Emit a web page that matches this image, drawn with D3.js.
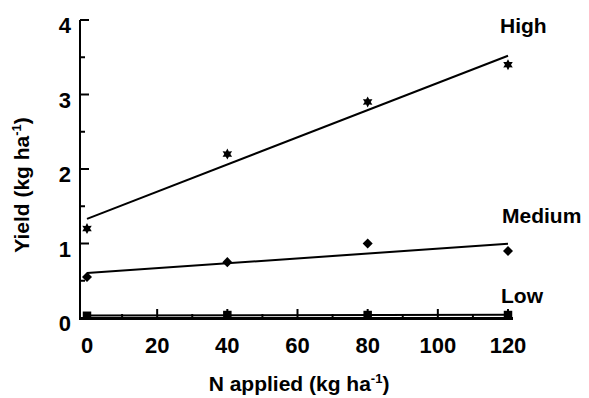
<!DOCTYPE html>
<html>
<head>
<meta charset="utf-8">
<script src="https://cdn.jsdelivr.net/npm/d3@7"></script>
<style>
  body { margin: 0; background: #fff; }
  text { font-family: "Liberation Sans", Arial, sans-serif; font-weight: bold; fill: #000; }
</style>
</head>
<body>
<div id="chart"></div>
<script>
const width = 589;
const height = 398;

// N rates and yields
const nRates = [0, 40, 80, 120];
const highYield = [1.2, 2.2, 2.9, 3.4];
const mediumYield = [0.55, 0.75, 1.0, 0.9];
const lowYield = [0.03, 0.04, 0.04, 0.04];
const seriesNames = ["High", "Medium", "Low"];
const xTicks = [0, 20, 40, 60, 80, 100, 120];
const yTicks = [0, 1, 2, 3, 4];

const svg = d3
  .select("#chart")
  .append("svg")
  .attr("width", width)
  .attr("height", height);

const xScale = d3.scaleLinear().domain([0, 120]).range([87, 508]);
const yScale = d3.scaleLinear().domain([0, 4]).range([318, 20]);

// least squares line for each series
const fit = (ys) => {
  const mx = d3.mean(nRates), my = d3.mean(ys);
  let sxy = 0, sxx = 0;
  nRates.forEach((x, i) => { sxy += (x - mx) * (ys[i] - my); sxx += (x - mx) ** 2; });
  const b = sxy / sxx;
  const a = my - b * mx;
  return [[0, a], [120, a + b * 120]];
};

// six point star marker
const hexagram = (r) => {
  const p = [];
  for (let i = 0; i < 12; i++) {
    const ang = -Math.PI / 2 + i * Math.PI / 6;
    const rr = i % 2 === 0 ? r : r * 0.55;
    p.push([rr * Math.cos(ang), rr * Math.sin(ang)]);
  }
  return "M" + p.map((d) => d.join(",")).join("L") + "Z";
};

const series = [
  { name: "High", values: highYield, marker: hexagram(5.5) },
  { name: "Medium", values: mediumYield, marker: d3.symbol(d3.symbolDiamond2, 64)() },
  { name: "Low", values: lowYield, marker: d3.symbol(d3.symbolSquare, 72)() }
];

// axes
svg.append("line")
  .attr("x1", 80).attr("x2", 80)
  .attr("y1", yScale(4)).attr("y2", yScale(0))
  .attr("stroke", "#000").attr("stroke-width", 2);

svg.append("line")
  .attr("x1", 79).attr("x2", 513)
  .attr("y1", yScale(0) + 0.5).attr("y2", yScale(0) + 0.5)
  .attr("stroke", "#000").attr("stroke-width", 3);

svg.selectAll(".ytick")
  .data(d3.range(0, 4.01, 0.5))
  .enter()
  .append("line")
  .attr("x1", 80)
  .attr("x2", (d) => (d % 1 === 0 ? 89 : 85))
  .attr("y1", (d) => yScale(d))
  .attr("y2", (d) => yScale(d))
  .attr("stroke", "#000")
  .attr("stroke-width", 2);

svg.selectAll(".xtick")
  .data(d3.range(10, 121, 10))
  .enter()
  .append("line")
  .attr("x1", (d) => xScale(d))
  .attr("x2", (d) => xScale(d))
  .attr("y1", yScale(0))
  .attr("y2", (d) => (d % 20 === 0 ? yScale(0) - 9 : yScale(0) - 4))
  .attr("stroke", "#000")
  .attr("stroke-width", 2);

svg.selectAll(".ylabel")
  .data(yTicks)
  .enter()
  .append("text")
  .attr("x", 71)
  .attr("y", (d) => yScale(d) + 13)
  .attr("text-anchor", "end")
  .style("font-size", "22px")
  .text((d) => d);

svg.selectAll(".xlabel")
  .data(xTicks)
  .enter()
  .append("text")
  .attr("x", (d) => xScale(d))
  .attr("y", 353)
  .attr("text-anchor", "middle")
  .style("font-size", "22px")
  .text((d) => d);

// regression lines
const line = d3.line().x((d) => xScale(d[0])).y((d) => yScale(d[1]));

series.forEach((s) => {
  svg.append("path")
    .attr("d", line(fit(s.values)))
    .attr("fill", "none")
    .attr("stroke", "#000")
    .attr("stroke-width", 2);

  svg.selectAll(".pt-" + s.name)
    .data(s.values)
    .enter()
    .append("path")
    .attr("d", s.marker)
    .attr("transform", (d, i) => "translate(" + xScale(nRates[i]) + "," + yScale(d) + ")")
    .attr("fill", "#000");
});

// series labels
const labelPos = { High: [500, 33], Medium: [502, 223], Low: [501, 303] };
svg.selectAll(".serieslabel")
  .data(seriesNames)
  .enter()
  .append("text")
  .attr("x", (d) => labelPos[d][0])
  .attr("y", (d) => labelPos[d][1])
  .style("font-size", "21px")
  .text((d) => d);

// axis titles
const xTitle = svg.append("text")
  .attr("x", 299)
  .attr("y", 391)
  .attr("text-anchor", "middle")
  .style("font-size", "21px");
xTitle.append("tspan").text("N applied (kg ha");
xTitle.append("tspan").attr("dy", -8).style("font-size", "13px").text("-1");
xTitle.append("tspan").attr("dy", 8).text(")");

const yTitle = svg.append("text")
  .attr("transform", "translate(29,185) rotate(-90)")
  .attr("text-anchor", "middle")
  .style("font-size", "21px");
yTitle.append("tspan").text("Yield (kg ha");
yTitle.append("tspan").attr("dy", -8).style("font-size", "13px").text("-1");
yTitle.append("tspan").attr("dy", 8).text(")");
</script>
</body>
</html>
